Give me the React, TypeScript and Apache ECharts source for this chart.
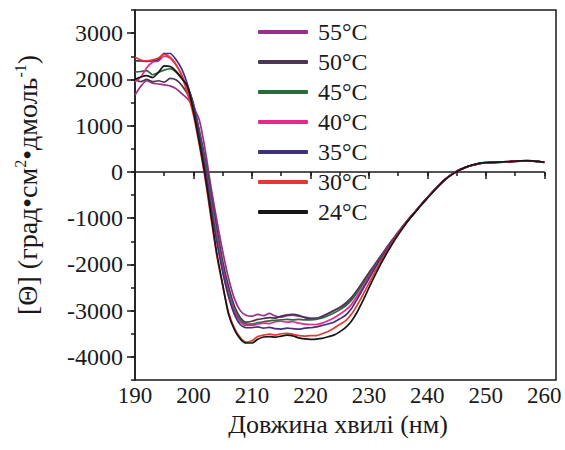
import React, { useEffect, useRef } from "react";
import * as echarts from "echarts";

const WAVELENGTHS = [
  190, 191, 192, 193, 194, 195, 196, 197, 198, 199,
  200, 201, 202, 203, 204, 205, 206, 207, 208, 209,
  210, 211, 212, 213, 214, 215, 216, 217, 218, 219,
  220, 221, 222, 223, 224, 225, 226, 227, 228, 229,
  230, 231, 232, 233, 234, 235, 236, 237, 238, 239,
  240, 241, 242, 243, 244, 245, 246, 247, 248, 249,
  250, 251, 252, 253, 254, 255, 256, 257, 258, 259, 260,
];

const T55 = [
  1660, 1850, 1970, 1920, 1900, 1880, 1860, 1800, 1690, 1580,
  1400, 1120, 480, -330, -1050, -1720, -2300, -2740, -3000, -3100,
  -3120, -3080, -3110, -3060, -3120, -3140, -3110, -3100, -3120, -3140,
  -3160, -3160, -3120, -3060, -3000, -2940, -2870, -2740, -2560, -2370,
  -2180, -2000, -1820, -1640, -1470, -1300, -1140, -990, -845, -695,
  -555, -415, -285, -165, -65, 15, 70, 120, 155, 185,
  198, 204, 210, 216, 224, 232, 238, 241, 237, 224, 208,
];
const T50 = [
  1990, 1950, 2000, 1950, 1970, 1940, 2020, 1990, 1870, 1680,
  1440, 900, 280, -480, -1220, -1930, -2480, -2900, -3150, -3250,
  -3230, -3190, -3170, -3150, -3160, -3120, -3090, -3080, -3100, -3150,
  -3180, -3170, -3130, -3070, -3000, -2930, -2840, -2720, -2560, -2380,
  -2190, -2010, -1830, -1650, -1480, -1310, -1150, -995, -850, -700,
  -560, -420, -290, -170, -70, 10, 68, 118, 152, 182,
  196, 202, 207, 213, 220, 228, 235, 239, 235, 222, 206,
];
const T45 = [
  2160, 2170, 2190, 2100, 2150, 2200, 2230, 2160, 2020, 1830,
  1480, 850, 200, -600, -1350, -2050, -2600, -2980, -3200, -3290,
  -3290, -3260, -3240, -3220, -3210, -3200, -3190, -3200, -3190, -3200,
  -3200, -3190, -3160, -3110, -3050, -2980, -2900, -2780, -2610, -2420,
  -2230, -2040, -1850, -1670, -1490, -1320, -1150, -995, -845, -695,
  -555, -415, -285, -165, -65, 15, 72, 122, 158, 188,
  200, 205, 210, 216, 224, 232, 238, 242, 238, 225, 210,
];
const T40 = [
  1950, 2050, 2250, 2370, 2400, 2500, 2460, 2310, 2100, 1780,
  1430, 780, 100, -680, -1430, -2100, -2650, -3030, -3240, -3320,
  -3320, -3290, -3270, -3280, -3240, -3230, -3250, -3240, -3270, -3290,
  -3300, -3300, -3270, -3220, -3160, -3080, -2990, -2870, -2680, -2480,
  -2270, -2070, -1870, -1680, -1500, -1320, -1160, -1000, -850, -700,
  -555, -415, -285, -165, -65, 15, 70, 120, 155, 185,
  198, 203, 208, 214, 222, 230, 237, 240, 236, 222, 208,
];
const T35 = [
  2400, 2400, 2390, 2400, 2430, 2560, 2560, 2430, 2220, 1880,
  1430, 780, 80, -760, -1520, -2170, -2700, -3080, -3300, -3370,
  -3370, -3350, -3380, -3360, -3390, -3400, -3380, -3390, -3400, -3380,
  -3370, -3350, -3320, -3290, -3250, -3180, -3100, -2960, -2750, -2530,
  -2310, -2090, -1880, -1690, -1500, -1330, -1160, -1000, -850, -700,
  -560, -420, -290, -170, -70, 10, 65, 115, 150, 180,
  195, 200, 205, 210, 218, 226, 234, 238, 234, 220, 205,
];
const T30 = [
  2480, 2420, 2400, 2420, 2460, 2540, 2480, 2330, 2070, 1690,
  1230, 580, -150, -1000, -1820, -2460, -3040, -3380, -3580, -3680,
  -3650, -3560, -3530, -3510, -3530, -3500, -3490, -3510, -3540, -3550,
  -3540, -3540, -3500, -3450, -3380, -3300, -3220, -3080, -2880, -2650,
  -2410, -2170, -1940, -1730, -1530, -1340, -1170, -1005, -855, -705,
  -565, -425, -290, -170, -70, 10, 70, 120, 155, 185,
  195, 200, 205, 212, 220, 228, 235, 240, 235, 222, 205,
];
const T24 = [
  2000, 2050, 2080, 2040, 2150, 2290, 2280, 2180, 2020, 1840,
  1300, 640, -80, -930, -1770, -2440, -3080, -3410, -3610, -3700,
  -3700, -3620, -3570, -3560, -3575, -3550, -3530, -3545, -3590, -3610,
  -3620, -3615, -3600, -3565, -3530, -3460, -3370, -3230, -3030, -2780,
  -2510, -2250, -2000, -1770, -1560, -1360, -1180, -1010, -860, -710,
  -570, -430, -295, -175, -75, 5, 70, 125, 160, 190,
  200, 205, 210, 215, 222, 230, 238, 242, 238, 225, 210,
];

const SERIES_NAMES = ["55°C", "50°C", "45°C", "40°C", "35°C", "30°C", "24°C"];
const SERIES_VALUES = [T55, T50, T45, T40, T35, T30, T24];
const SERIES_COLORS = ["#9a2e8c", "#4b3552", "#2a6b3e", "#e8288a", "#40307e", "#e8372f", "#161616"];

const X_TITLE = "Довжина хвилі (нм)";
const FONT = "Liberation Serif";
const INK = "#1a1a1a";

export default function App() {
  const ref = useRef<HTMLDivElement>(null);
  useEffect(() => {
    if (!ref.current) return;
    const chart = echarts.init(ref.current, undefined, { renderer: "svg" });

    const gridMain = { left: 135, right: 9, top: 10, bottom: 70 };
    const pxPerNm = (565 - 135 - 9) / 72;
    const right260 = 565 - (135 + 70 * pxPerNm);
    const pxPerUnit = 370 / 8000;
    const gridYMajor = { left: 135, right: 9, top: 10 + 500 * pxPerUnit, bottom: 70 + 500 * pxPerUnit };
    const gridX = { left: 135, right: right260, top: 10, bottom: 70 };

    const series = SERIES_NAMES.map((name, i) => ({
      name,
      type: "line",
      xAxisIndex: 0,
      yAxisIndex: 0,
      showSymbol: false,
      symbol: "none",
      smooth: 0.25,
      lineStyle: { width: 1.7, color: SERIES_COLORS[i] },
      itemStyle: { color: SERIES_COLORS[i] },
      data: WAVELENGTHS.map((w, j) => [w, SERIES_VALUES[i][j]]),
      z: 3 + i,
    }));

    const hiddenAxis = (extra: any) => ({ show: false, ...extra });
    const plain = (v: number) => String(v);

    chart.setOption({
      animation: false,
      backgroundColor: "#ffffff",
      textStyle: { fontFamily: FONT },
      grid: [
        { ...gridMain, show: true, borderColor: "#1a1a1a", borderWidth: 1.5, backgroundColor: "transparent" },
        { ...gridYMajor, show: false },
        { ...gridX, show: false },
        { ...gridX, show: false },
      ],
      xAxis: [
        hiddenAxis({ type: "value", gridIndex: 0, min: 190, max: 262 }),
        hiddenAxis({ type: "value", gridIndex: 1, min: 190, max: 262 }),
        {
          type: "value", gridIndex: 2, min: 190, max: 260, interval: 5,
          axisLine: { show: true, lineStyle: { color: INK, width: 1.5 } },
          axisTick: { show: true, length: 4, lineStyle: { color: INK, width: 1.5 } },
          axisLabel: { show: false },
          splitLine: { show: false },
        },
        {
          type: "value", gridIndex: 3, min: 190, max: 260, interval: 10,
          axisLine: { show: false },
          axisTick: { show: true, length: 7, lineStyle: { color: INK, width: 1.5 } },
          axisLabel: { show: true, margin: 4, color: INK, fontSize: 23, lineHeight: 22, fontFamily: FONT, formatter: plain },
          splitLine: { show: false },
        },
      ],
      yAxis: [
        {
          type: "value", gridIndex: 0, min: -4500, max: 3500, interval: 500,
          axisLine: { show: true, lineStyle: { color: INK, width: 1.5 } },
          axisTick: { show: true, length: 4, lineStyle: { color: INK, width: 1.5 } },
          axisLabel: { show: false },
          splitLine: { show: false },
        },
        {
          type: "value", gridIndex: 1, min: -4000, max: 3000, interval: 1000,
          axisLine: { show: false },
          axisTick: { show: true, length: 8, lineStyle: { color: INK, width: 1.5 } },
          axisLabel: { show: true, margin: 12, color: INK, fontSize: 24, fontFamily: FONT, formatter: plain },
          splitLine: { show: false },
        },
        hiddenAxis({ type: "value", gridIndex: 2, min: -4500, max: 3500 }),
        hiddenAxis({ type: "value", gridIndex: 3, min: -4500, max: 3500 }),
      ],
      legend: {
        orient: "vertical",
        left: 258,
        top: 20,
        padding: 0,
        itemWidth: 50,
        itemHeight: 4,
        itemGap: 6,
        icon: "roundRect",
        data: SERIES_NAMES,
        textStyle: { color: INK, fontSize: 24, fontFamily: FONT, lineHeight: 20, padding: [0, 0, 0, 5] },
      },
      graphic: [
        {
          type: "text",
          x: 338,
          y: 424,
          style: {
            text: X_TITLE,
            fill: INK,
            fontSize: 26,
            lineHeight: 26,
            fontFamily: FONT,
            align: "center",
            verticalAlign: "middle",
          },
        },
        {
          type: "text",
          x: 27,
          y: 185,
          rotation: Math.PI / 2,
          style: {
            text: "{a|[Θ] (град•см}{s|2}{a|•дмоль}{s|-1}{a|)}",
            fill: INK,
            fontFamily: FONT,
            align: "center",
            verticalAlign: "middle",
            rich: {
              a: { fontSize: 28, fontFamily: FONT, fill: INK, lineHeight: 30 },
              s: { fontSize: 16, fontFamily: FONT, fill: INK, lineHeight: 22, verticalAlign: "top" },
            },
          },
        },
      ],
      series,
    });
    return () => chart.dispose();
  }, []);
  return (
    <div
      ref={ref}
      style={{ position: "fixed", left: 0, top: 0, width: 565, height: 450, background: "#fff" }}
    />
  );
}
